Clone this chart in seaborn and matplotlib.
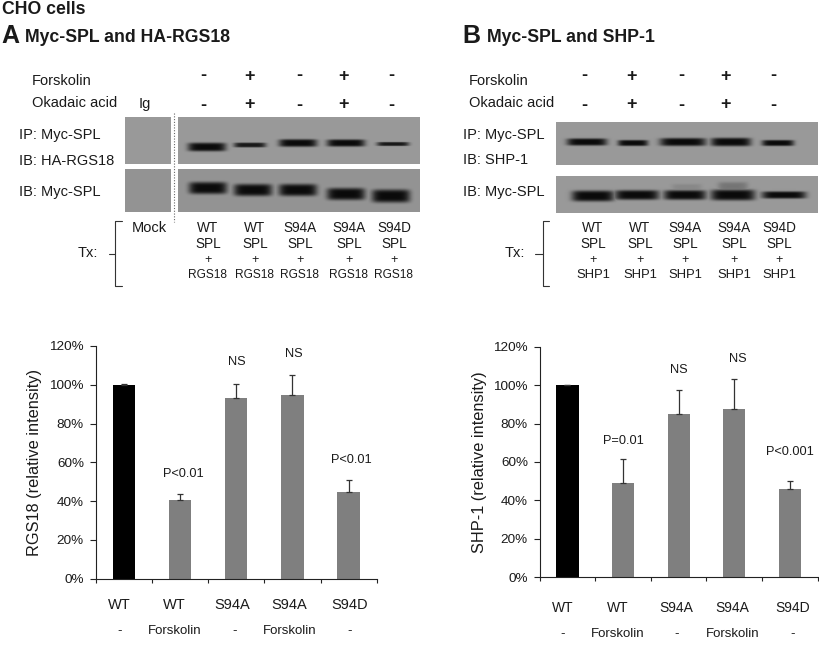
import numpy as np
import pandas as pd
import matplotlib
matplotlib.use("Agg")
import matplotlib.pyplot as plt
from matplotlib.transforms import ScaledTranslation
import seaborn as sns

# ---------- chart data ----------
genotype = ["WT", "WT", "S94A", "S94A", "S94D"]
treatment = ["-", "Forskolin", "-", "Forskolin", "-"]
bar_colors = ["#000000", "#7f7f7f", "#7f7f7f", "#7f7f7f", "#7f7f7f"]

rgs18_values = [100.0, 40.7, 93.2, 94.8, 44.6]
rgs18_tops = [100.2, 43.5, 100.2, 105.0, 51.0]
rgs18_notes = ["", "P<0.01", "NS", "NS", "P<0.01"]
rgs18_note_y = [None, 54.0, 111.5, 116.0, 61.0]

shp1_values = [100.0, 49.0, 85.0, 87.5, 46.0]
shp1_tops = [100.2, 61.5, 97.5, 103.0, 50.0]
shp1_notes = ["", "P=0.01", "NS", "NS", "P<0.001"]
shp1_note_y = [None, 71.0, 108.0, 113.5, 65.0]

y_ticks = [0, 20, 40, 60, 80, 100, 120]

# ---------- blot annotations ----------
signs_row1 = ["-", "+", "-", "+", "-"]
signs_row2 = ["-", "+", "-", "+", "-"]
tx_a = [("WT", "SPL", "RGS18"), ("WT", "SPL", "RGS18"), ("S94A", "SPL", "RGS18"),
        ("S94A", "SPL", "RGS18"), ("S94D", "SPL", "RGS18")]
tx_b = [("WT", "SPL", "SHP1"), ("WT", "SPL", "SHP1"), ("S94A", "SPL", "SHP1"),
        ("S94A", "SPL", "SHP1"), ("S94D", "SPL", "SHP1")]

# band: centre x, centre y, half width, half thickness, strength (pixels of the blot photograph)
bands_a_top = [(207, 147, 19, 4.3, 1), (250, 145, 16, 2.4, .9), (298, 143, 19, 3.8, 1),
               (346, 143, 19, 3.6, 1), (393, 144, 16, 2.0, .9)]
bands_a_low = [(208, 188, 19, 6, 1), (253, 190, 19, 6, 1), (298, 190, 19, 6, 1),
               (346, 194, 19, 6, 1), (391, 196, 19, 6.5, 1)]
bands_b_top = [(587, 142, 20, 3.6, 1), (633, 143, 15, 3.0, 1), (683, 142, 23, 4, 1),
               (731, 142, 20, 4.2, 1), (778, 143, 16, 3.0, 1)]
bands_b_low = [(593, 196, 21, 5.4, 1), (637, 195, 22, 4.8, 1), (685, 195, 21, 4.8, 1),
               (733, 195, 22, 5.4, 1), (784, 195, 22, 3.6, 1),
               (687, 188, 15, 4, .12), (733, 187, 15, 5, .25)]

sns.set_theme(style="white")
plt.rcParams["font.family"] = ["Liberation Sans", "DejaVu Sans"]
TXT = "#1a1a1a"

fig = plt.figure(figsize=(8.2, 6.47), dpi=100, facecolor="white")
W, H = 820, 647

ov = fig.add_axes([0, 0, 1, 1], zorder=0)
ov.set_xlim(0, W)
ov.set_ylim(H, 0)
ov.axis("off")


def blot(x0, x1, y0, y1, bands, base=0.60):
    xs = np.arange(x0, x1) + 0.5
    ys = np.arange(y0, y1) + 0.5
    xx, yy = np.meshgrid(xs, ys)
    dark = np.zeros_like(xx)
    for cx, cy, hw, hh, s in bands:
        dark = np.maximum(dark, s * np.exp(-((xx - cx) / hw) ** 6 - ((yy - cy) / hh) ** 4))
    img = base * (1 - dark * 0.93)
    ov.imshow(img, cmap="gray", vmin=0, vmax=1, extent=(x0, x1, y1, y0),
              aspect="auto", interpolation="bilinear")


blot(125, 171, 117, 164, [])
blot(178, 420, 117, 164, bands_a_top)
blot(125, 171, 169, 212, [], base=0.58)
blot(178, 420, 169, 212, bands_a_low, base=0.58)
blot(556, 818, 122, 165, bands_b_top)
blot(556, 818, 176, 213, bands_b_low)
ov.set_xlim(0, W)
ov.set_ylim(H, 0)
ov.plot([174, 174], [113, 222], color="#666666", lw=0.8, ls=(0, (1, 1.5)))


def t(x, y, s, size=10.5, ha="left", weight="normal"):
    ov.text(x, y, s, fontsize=size, ha=ha, va="center", color=TXT, fontweight=weight)


def bracket(xr, xl, xn):
    ov.plot([xr, xl, xl, xr], [221, 221, 286, 286], color="#333333", lw=0.8)
    ov.plot([xn, xl], [254, 254], color="#333333", lw=0.8)


t(2, 9, "CHO cells", 12.7, weight="bold")
t(1, 36, "A", 18, weight="bold")
t(25, 37, "Myc-SPL and HA-RGS18", 12.7, weight="bold")
t(462, 36, "B", 18, weight="bold")
t(487, 37, "Myc-SPL and SHP-1", 12.7, weight="bold")

# panel A annotation
t(32, 81, "Forskolin")
t(32, 103, "Okadaic acid")
t(145, 104, "Ig", ha="center")
t(19, 135, "IP: Myc-SPL")
t(19, 161, "IB: HA-RGS18")
t(19, 192, "IB: Myc-SPL")
t(149.5, 228, "Mock", ha="center")
t(88, 253, "Tx:", ha="center")
bracket(122, 115, 109)
for x, a, b in zip([203, 250, 299, 344, 391], signs_row1, signs_row2):
    t(x, 76, a, 13, "center", "bold")
    t(x, 105, b, 13, "center", "bold")
for x, (g, s, r) in zip([208, 255, 300, 349, 394], tx_a):
    t(x, 228, g, 9.8, "center")
    t(x, 244, s, 9.8, "center")
    t(x, 260, "+", 9, "center")
    t(x, 275, r, 8.6, "center")

# panel B annotation
t(469, 81, "Forskolin")
t(469, 103, "Okadaic acid")
t(463, 135, "IP: Myc-SPL")
t(463, 160, "IB: SHP-1")
t(463, 192, "IB: Myc-SPL")
t(515, 253, "Tx:", ha="center")
bracket(549, 543, 535)
for x, a, b in zip([584, 632, 681, 726, 773], signs_row1, signs_row2):
    t(x, 76, a, 13, "center", "bold")
    t(x, 105, b, 13, "center", "bold")
for x, (g, s, r) in zip([593, 640, 685, 734, 779], tx_b):
    t(x, 228, g, 9.8, "center")
    t(x, 244, s, 9.8, "center")
    t(x, 260, "+", 9, "center")
    t(x, 275, r, 9.4, "center")


def bar_panel(left, right, top, bottom, values, tops, notes, note_y, note_dx, ylabel, ylab_x,
              row1_dx, row2_dx, row1_pad, row2_gap, row1_size):
    ax = fig.add_axes([left / W, 1 - bottom / H, (right - left) / W, (bottom - top) / H],
                      zorder=1, facecolor="none")
    df = pd.DataFrame({"pos": list(range(len(values))), "value": values})
    sns.barplot(data=df, x="pos", y="value", hue="pos", palette=bar_colors, dodge=False,
                width=0.4, legend=False, errorbar=None, ax=ax, linewidth=0, saturation=1)
    lower = [0] * len(values)
    upper = [b - v for b, v in zip(tops, values)]
    ax.errorbar(df["pos"], values, yerr=[lower, upper], fmt="none", ecolor="#333333",
                elinewidth=0.9, capsize=2.5, capthick=0.9)
    ax.set_xlim(-0.5, 4.5)
    ax.set_ylim(0, 120)
    ax.set_yticks(y_ticks)
    ax.set_yticklabels([f"{v}%" for v in y_ticks], fontsize=9.7, color=TXT)
    ax.set_xticks(np.arange(-0.5, 5, 1))
    ax.set_xticklabels([])
    ax.set_xticks(df["pos"], genotype, minor=True, fontsize=row1_size, color=TXT)
    ax.tick_params(axis="x", which="major", length=3, width=0.8, color="#222222", bottom=True)
    ax.tick_params(axis="x", which="minor", length=0, pad=row1_pad)
    ax.tick_params(axis="y", length=4, width=0.8, color="#222222", left=True, pad=4.5)
    for s in ("top", "right"):
        ax.spines[s].set_visible(False)
    for s in ("left", "bottom"):
        ax.spines[s].set_color("#222222")
        ax.spines[s].set_linewidth(0.8)
    for lab, dx in zip(ax.get_xticklabels(minor=True), row1_dx):
        lab.set_transform(lab.get_transform() + ScaledTranslation(dx / 100, 0, fig.dpi_scale_trans))
    for i, (tr, dx) in enumerate(zip(treatment, row2_dx)):
        ax.annotate(tr, xy=(i, 0), xycoords=("data", "axes fraction"),
                    xytext=(dx, -row2_gap), textcoords="offset pixels",
                    ha="center", va="center", fontsize=9.5, color=TXT)
    for i, (n, y, dx) in enumerate(zip(notes, note_y, note_dx)):
        if n:
            ax.annotate(n, xy=(i, y), xytext=(dx, 0), textcoords="offset pixels",
                        ha="center", va="center", fontsize=9.2, color=TXT)
    ax.set_ylabel(ylabel, fontsize=11.8, color=TXT)
    ax.yaxis.set_label_coords((ylab_x - left) / (right - left), 0.5)
    ax.set_xlabel("")
    return ax


bar_panel(95.7, 376.7, 346, 578.7, rgs18_values, rgs18_tops, rgs18_notes, rgs18_note_y,
          [0, 3, 1, 1, 3], "RGS18 (relative intensity)", 42,
          [-4, -6, -4, -3, 1], [-4, -5, -2, -3, 1], 14, 52, 10.5)
bar_panel(539.7, 817.7, 346.7, 577.3, shp1_values, shp1_tops, shp1_notes, shp1_note_y,
          [0, 0, 0, 4, 0], "SHP-1 (relative intensity)", 487,
          [-5, -5, -2, -2, 3], [-5, -5, -2, -2, 3], 17, 57, 10)

fig.savefig("out.png", dpi=100, facecolor="white")
